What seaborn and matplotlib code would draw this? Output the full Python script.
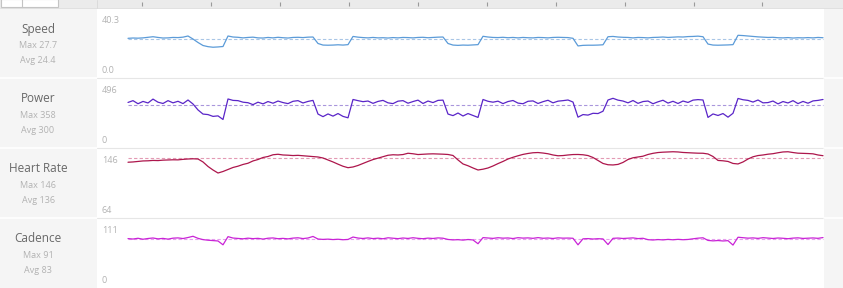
import numpy as np
import pandas as pd
import matplotlib
matplotlib.use("Agg")
import matplotlib.pyplot as plt
import seaborn as sns
from matplotlib.patches import Rectangle
from matplotlib.lines import Line2D

# ---------------- data ----------------
metrics = ["Speed", "Power", "Heart Rate", "Cadence"]
max_labels = ["Max 27.7", "Max 358", "Max 146", "Max 91"]
avg_labels = ["Avg 24.4", "Avg 300", "Avg 136", "Avg 83"]
averages = [24.4, 300, 136, 83]
axis_top_labels = ["40.3", "496", "146", "111"]
axis_bottom_labels = ["0.0", "0", "64", "0"]
y_ranges = [(0.0, 40.3), (0, 496), (64, 146), (0, 111)]
overview_ticks_min = [2, 12, 22, 32, 42, 52, 62, 72, 82, 92]
sample_minutes = 0.725

speed = [
    24.8, 25.0, 24.9, 25.1, 25.5, 25.9, 25.4, 25.0, 25.1, 25.4, 25.3, 25.6, 26.4,
    24.3, 21.9, 19.8, 19.0, 18.6, 18.8, 19.1,
    26.4, 25.7, 25.5, 25.1, 25.4, 25.6, 25.1, 25.0, 25.4, 25.1, 25.5, 25.2, 25.0,
    25.4, 25.5, 25.3, 25.6, 25.7,
    21.2, 20.1, 20.0, 20.1, 20.3, 20.1, 20.4,
    26.1, 25.6, 25.3, 25.1, 25.4, 25.1, 25.2, 25.0, 25.3, 25.1, 25.4, 25.3, 25.1,
    25.4, 25.5, 25.2, 25.4, 25.6, 25.7,
    21.2, 20.1, 19.9, 20.1, 20.0, 20.2, 20.4,
    26.2, 25.7, 25.4, 25.3, 25.5, 25.2, 25.4, 25.1, 25.4, 25.2, 25.1, 25.4, 25.3,
    25.1, 25.4, 25.5, 25.4, 25.3, 24.8,
    19.5, 19.9, 20.0, 20.0, 20.1, 20.3,
    25.9, 26.1, 25.7, 25.5, 25.4, 25.1, 25.4, 25.3, 25.1, 25.4, 25.5, 25.7, 25.4,
    25.6, 25.8, 25.7, 26.0, 26.1, 26.3, 25.9,
    20.8, 20.1, 20.0, 20.1, 20.2, 20.4,
    26.9, 26.7, 26.4, 26.1, 25.8, 25.6, 25.4, 25.5, 25.2, 25.1, 25.3, 25.0, 25.2,
    25.1, 25.3, 25.1, 25.4, 25.2,
]

power = [
    322, 336, 312, 330, 318, 348, 324, 314, 336, 319, 331, 313, 341,
    310, 264, 232, 228, 214, 218, 190,
    349, 338, 336, 324, 320, 305, 324, 311, 329, 316, 333, 321, 313, 331, 336,
    318, 330, 338,
    232, 212, 233, 216, 236, 214, 203,
    345, 336, 328, 333, 315, 330, 338, 319, 313, 332, 336, 316, 329, 340, 314,
    333, 321, 338, 340,
    232, 220, 240, 217, 236, 221, 206,
    345, 331, 324, 332, 313, 329, 337, 317, 312, 331, 334, 314, 328, 339, 319,
    332, 336, 341, 325,
    208, 228, 224, 238, 236, 254,
    341, 354, 340, 333, 319, 337, 315, 329, 333, 312, 327, 339, 317, 331, 314,
    333, 322, 340, 344, 341,
    206, 233, 221, 236, 208, 238,
    353, 343, 338, 325, 341, 319, 321, 333, 311, 329, 318, 336, 313, 330, 316,
    334, 338, 345,
]

heart_rate = [
    130.5, 130.9, 131.6, 132.3, 132.5, 133.0, 132.8, 133.4, 133.7, 133.9, 133.8,
    134.5, 135.0, 135.3, 135.0, 130.9, 124.6, 119.7, 115.5, 117.6, 120.4, 123.2,
    125.0, 127.4, 129.1, 132.3, 134.3, 137.1, 138.5, 140.9, 141.6, 140.6, 140.3,
    139.8, 140.1, 139.5, 138.9, 138.4, 137.8, 136.4, 133.7, 130.9, 127.8, 124.9,
    122.9, 123.9, 126.0, 128.8, 131.6, 134.2, 136.2, 138.1, 140.2, 140.9, 140.6,
    141.2, 143.0, 142.3, 141.2, 141.6, 142.0, 142.2, 142.0, 141.7, 141.3, 139.9,
    133.7, 128.1, 125.6, 122.5, 119.7, 120.8, 122.5, 125.3, 128.6, 131.6, 135.0,
    137.4, 139.5, 141.4, 142.7, 143.7, 144.0, 143.3, 142.3, 140.6, 139.5, 139.8,
    140.6, 141.2, 141.3, 140.9, 139.8, 137.1, 133.0, 128.8, 127.0, 126.7, 127.5,
    130.2, 134.3, 136.7, 137.8, 138.9, 141.3, 142.9, 144.0, 144.5, 144.8, 145.1,
    144.8, 144.1, 143.7, 143.4, 143.1, 143.0, 142.0, 138.5, 133.0, 132.5, 131.6,
    128.8, 128.1, 130.9, 135.0, 138.1, 139.8, 140.6, 141.7, 142.4, 143.7, 144.8,
    145.1, 144.0, 143.1, 142.9, 142.6, 142.2, 140.6, 139.6,
]

cadence = [
    84.0, 83.2, 84.6, 82.8, 84.2, 85.1, 83.5, 84.4, 83.0, 84.8, 85.3, 84.1,
    86.0, 88.3, 84.5, 82.1, 81.0, 80.2, 79.6, 72.5, 87.6, 85.0,
    84.3, 83.6, 84.8, 83.9, 84.5, 83.1, 84.7, 85.2, 83.8, 84.4, 83.5, 84.9,
    85.5, 84.0, 85.1, 88.0,
    83.2, 82.5, 83.0, 82.2, 82.8, 81.9, 82.4,
    86.9, 85.0, 84.2, 85.3, 84.0, 84.8, 83.7, 85.5, 84.6, 83.9, 85.1, 84.3,
    85.6, 84.5, 83.8, 84.9, 84.2, 85.3, 84.7,
    82.4, 81.6, 82.0, 81.2, 82.3, 81.5, 74.5, 85.8,
    85.0, 84.4, 85.6, 84.8, 85.2, 84.1, 85.7, 84.9, 85.3, 84.5, 85.8, 84.6,
    85.1, 84.2, 85.4, 84.8, 85.0,
    84.6, 72.5, 83.6, 84.0, 83.2, 83.8, 83.4, 73.0,
    84.5, 85.0, 84.2, 84.8, 85.3, 84.0, 84.6,
    82.0, 81.4, 82.2, 81.6, 82.5, 81.8, 82.6, 81.9, 82.4, 83.6, 84.8,
    85.5, 80.6, 79.8, 80.4, 79.6, 80.2, 72.0, 86.5,
    85.6, 84.8, 85.3, 84.4, 85.7, 84.9, 84.2, 85.1, 84.6, 83.8, 84.9, 85.4,
    84.3, 84.8, 85.2, 84.5, 85.9,
]

series = [speed, power, heart_rate, cadence]
t = np.arange(len(speed)) * sample_minutes

frames = [pd.DataFrame({"minutes": t, "value": s}) for s in series]

# ---------------- style ----------------
sns.set_theme(style="white")
plt.rcParams["font.family"] = ["Open Sans", "DejaVu Sans"]

line_colors = ["#5b9bd8", "#5a25c8", "#ad164c", "#c923d6"]
dash_colors = ["#a9c6e6", "#a996dc", "#e39ab4", "#e7a0ee"]

W, H = 843, 288
fig = plt.figure(figsize=(W / 100, H / 100), dpi=100)
fig.patch.set_facecolor("white")


def frect(x0, y0, x1, y1, color, z=0, **kw):
    r = Rectangle((x0 / W, 1 - y1 / H), (x1 - x0) / W, (y1 - y0) / H,
                  transform=fig.transFigure, facecolor=color, edgecolor=kw.get("ec", "none"),
                  linewidth=kw.get("lw", 0), zorder=z)
    fig.add_artist(r)


def fline(x0, y0, x1, y1, color, lw=1.0, z=1):
    fig.add_artist(Line2D([x0 / W, x1 / W], [1 - y0 / H, 1 - y1 / H],
                          transform=fig.transFigure, color=color, lw=lw, zorder=z))


# top overview strip
frect(0, 0, W, 7.5, "#ebebeb")
frect(0.5, -1, 58, 6.5, "white", z=1, ec="#c4c4c4", lw=0.8)
fline(22, -1, 22, 6.5, "#c4c4c4", lw=0.8, z=2)
fline(0, 7.5, W, 7.5, "#dcdcdc", lw=0.6)
fline(96.5, 0, 96.5, 7.5, "#d8d8d8", lw=0.6)

# left label panel and right margin
frect(0, 8, 96.5, H, "#f5f5f5")
frect(823.5, 8, W, H, "#f5f5f5")

row_tops = [8, 78, 148, 218]
for k in range(1, 4):
    y = row_tops[k] - 0.5
    fline(0, y, 96.5, y, "white", lw=1.2)
    fline(96.5, y, 823.5, y, "#e6e6e6", lw=0.8)
    fline(823.5, y, W, y, "white", lw=1.2)

# pixel extents of each value range (top value y, bottom value y)
axis_px = [(16, 74), (80, 144), (151.1, 210), (224, 284)]
overview = fig.add_axes([128 / W, 1 - 7.5 / H, 695 / W, 7.5 / H])
overview.set_xlim(t[0], t[-1])
overview.set_ylim(0, 1)
overview.axis("off")
overview.vlines(overview_ticks_min, 0.15, 0.7, color="#9a9a9a", lw=0.8)

for k in range(4):
    top = row_tops[k]
    ytop, ybot = axis_px[k]
    ax = fig.add_axes([128 / W, 1 - ybot / H, 695 / W, (ybot - ytop) / H])
    ax.patch.set_alpha(0)
    ax.axhline(averages[k], color=dash_colors[k], lw=0.8, ls=(0, (3, 2)), zorder=1)
    sns.lineplot(data=frames[k], x="minutes", y="value", ax=ax, color=line_colors[k],
                 linewidth=0.9, estimator=None, legend=False, zorder=2)
    ax.set_xlim(t[0], t[-1])
    ax.set_ylim(*y_ranges[k])
    ax.axis("off")
    for ln in ax.lines:
        ln.set_clip_on(False)

    fig.text(38 / W, 1 - (top + 21) / H, metrics[k], ha="center", va="center",
             fontsize=8.5, color="#686868")
    fig.text(38 / W, 1 - (top + 37.5) / H, max_labels[k], ha="center", va="center",
             fontsize=6.5, color="#b2b2b2")
    fig.text(38 / W, 1 - (top + 52.5) / H, avg_labels[k], ha="center", va="center",
             fontsize=6.5, color="#b2b2b2")
    fig.text(102 / W, 1 - (top + 12.5) / H, axis_top_labels[k], ha="left", va="center",
             fontsize=6.5, color="#b2b2b2")
    fig.text(102 / W, 1 - (top + 62.5) / H, axis_bottom_labels[k], ha="left", va="center",
             fontsize=6.5, color="#b2b2b2")

fig.savefig("out.png", dpi=100, facecolor=fig.get_facecolor())
